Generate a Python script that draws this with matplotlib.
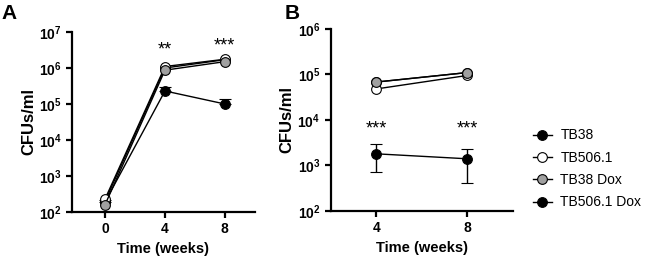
import matplotlib
matplotlib.use("Agg")
import matplotlib.pyplot as plt

plt.rcParams['font.family'] = ['Liberation Sans', 'DejaVu Sans']
plt.rcParams['mathtext.fontset'] = 'custom'
plt.rcParams['mathtext.rm'] = 'Liberation Sans:bold'
plt.rcParams['mathtext.bf'] = 'Liberation Sans:bold'

# panel A data
weeks_a = [0, 4, 8]
tb38_a = [200, 1.0e6, 1.7e6]
tb506_a = [230, 1.1e6, 1.75e6]
tb38dox_a = [160, 8.7e5, 1.5e6]
tb506dox_a = [190, 2.3e5, 1.0e5]
tb506dox_a_err = [20, 6e4, 4e4]
stars_a = ["**", "***"]
stars_a_y = [1.8e6, 2.4e6]

# panel B data
weeks_b = [4, 8]
tb38_b = [6.8e4, 1.1e5]
tb506_b = [4.8e4, 9.5e4]
tb38dox_b = [6.8e4, 1.1e5]
tb506dox_b = [1.8e3, 1.4e3]
tb506dox_b_lo = [7.0e2, 4.2e2]
tb506dox_b_hi = [2.9e3, 2.3e3]
stars_b = ["***", "***"]
stars_b_y = [4.2e3, 4.2e3]

labels = ["TB38", "TB506.1", "TB38 Dox", "TB506.1 Dox"]
fills = ["black", "white", "#a0a0a0", "black"]

fig = plt.figure(figsize=(6.5, 2.56), dpi=100)
axA = fig.add_axes([0.111, 0.172, 0.281, 0.703])
axB = fig.add_axes([0.509, 0.176, 0.280, 0.711])

def style(ax, ylo, yhi, ticks):
    ax.set_yscale('log')
    ax.set_ylim(ylo, yhi)
    exps = range(len(str(int(ylo))) - 1, len(str(int(yhi))))
    ax.set_yticks([10 ** e for e in exps])
    ax.set_yticklabels([r'$\mathbf{10^{%d}}$' % e for e in exps])
    ax.yaxis.set_minor_locator(matplotlib.ticker.NullLocator())
    ax.set_xticks(ticks)
    ax.set_xticklabels([str(t) for t in ticks], fontweight='bold', fontsize=11)
    for s in ['top', 'right']:
        ax.spines[s].set_visible(False)
    for s in ['left', 'bottom']:
        ax.spines[s].set_linewidth(1.6)
    ax.tick_params(width=1.6, length=4, labelsize=10)
    ax.set_ylabel("CFUs/ml", fontsize=12, fontweight='bold', labelpad=2)
    ax.set_xlabel("Time (weeks)", fontsize=10.5, fontweight='bold')

mk = dict(marker='o', markersize=7, markeredgecolor='black', markeredgewidth=0.8,
          color='black', lw=1.0)

# A
axA.errorbar(weeks_a, tb506dox_a, yerr=[[0, 0, 0], tb506dox_a_err], capsize=4,
             markerfacecolor=fills[3], zorder=2, **mk)
axA.plot(weeks_a, tb38_a, markerfacecolor=fills[0], zorder=3, **mk)
axA.plot(weeks_a, tb506_a, markerfacecolor=fills[1], zorder=4, **mk)
axA.plot(weeks_a, tb38dox_a, markerfacecolor=fills[2], zorder=5, **mk)
axA.set_xlim(-2.2, 10)
style(axA, 1e2, 1e7, weeks_a)
for x, y, s in zip(weeks_a[1:], stars_a_y, stars_a):
    axA.text(x, y, s, ha='center', va='bottom', fontsize=13)

# B
axB.errorbar(weeks_b, tb506dox_b,
             yerr=[[v - lo for v, lo in zip(tb506dox_b, tb506dox_b_lo)],
                   [hi - v for v, hi in zip(tb506dox_b, tb506dox_b_hi)]],
             capsize=4, markerfacecolor=fills[3], **mk)
axB.plot(weeks_b, tb38_b, markerfacecolor=fills[0], **mk)
axB.plot(weeks_b, tb506_b, markerfacecolor=fills[1], **mk)
axB.plot(weeks_b, tb38dox_b, markerfacecolor=fills[2], **mk)
axB.set_xlim(2, 10)
style(axB, 1e2, 1e6, weeks_b)
for x, y, s in zip(weeks_b, stars_b_y, stars_b):
    axB.text(x, y, s, ha='center', va='bottom', fontsize=13)

handles = [plt.Line2D([], [], markerfacecolor=f, **mk) for f in fills]
fig.legend(handles, labels, loc='center left', bbox_to_anchor=(0.80, 0.34),
           frameon=False, fontsize=10, handlelength=1.4, handletextpad=0.6,
           labelspacing=0.6)

fig.text(0.003, 0.985, "A", fontsize=15, fontweight='bold', va='top')
fig.text(0.438, 0.985, "B", fontsize=15, fontweight='bold', va='top')

fig.savefig("out.png", dpi=100)
